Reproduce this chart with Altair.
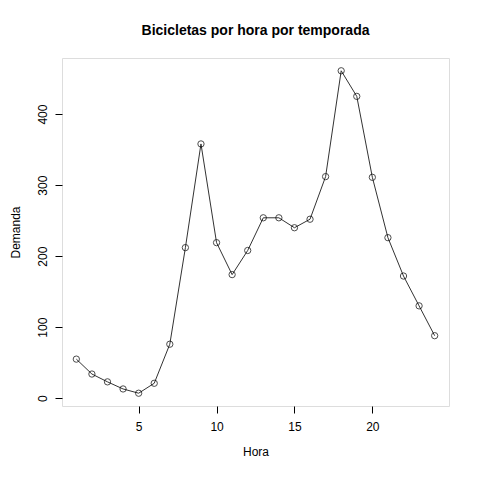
import altair as alt
import pandas as pd

hora = list(range(1, 25))
demanda = [55, 34, 23, 13, 7, 21, 76, 212, 358, 219, 174, 208,
           254, 254, 240, 252, 312, 461, 425, 311, 226, 172, 130, 88]

df = pd.DataFrame({"Hora": hora, "Demanda": demanda})

font = "Liberation Sans"

x = alt.X("Hora:Q", scale=alt.Scale(domain=[0.08, 24.92], nice=False, zero=False),
          axis=alt.Axis(values=[5, 10, 15, 20], grid=False, domain=False, tickColor="black",
                        tickSize=7, labelFontSize=12, labelColor="black", labelPadding=8,
                        titleFontSize=12, titleFontWeight="normal", titleColor="black",
                        titlePadding=14, labelFont=font, titleFont=font))
y = alt.Y("Demanda:Q", scale=alt.Scale(domain=[-11, 479], nice=False, zero=False),
          axis=alt.Axis(values=[0, 100, 200, 300, 400], grid=False, domain=False,
                        tickColor="black", tickSize=7, labelFontSize=12, labelColor="black",
                        labelAngle=-90, labelAlign="center", labelBaseline="bottom",
                        labelPadding=6, titleFontSize=12, titleFontWeight="normal",
                        titleColor="black", titlePadding=14, labelFont=font, titleFont=font))

base = alt.Chart(df).encode(x=x, y=y)
line = base.mark_line(color="#333333", strokeWidth=1)
pts = base.mark_point(shape="circle", filled=False, color="black", size=40, strokeWidth=1)

chart = (line + pts).properties(
    width=387, height=348,
    autosize=alt.AutoSizeParams(type="none"),
    padding={"left": 54, "top": 50, "right": 23, "bottom": 66},
    title=alt.Title("Bicicletas por hora por temporada", fontSize=14, font=font,
                    fontWeight="bold", color="black", offset=20),
).configure_view(stroke="black", strokeWidth=1).configure(background="white")

chart.save("out.html", embed_options={"renderer": "svg", "actions": False})
